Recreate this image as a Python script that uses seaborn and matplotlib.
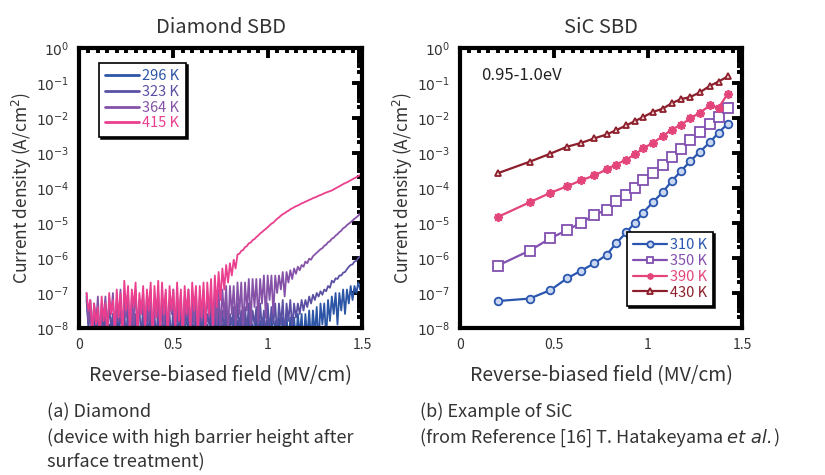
import numpy as np
import pandas as pd
import matplotlib
matplotlib.use("Agg")
import matplotlib.pyplot as plt
import seaborn as sns
from matplotlib.ticker import LogLocator, MultipleLocator, FuncFormatter, NullFormatter

# ---------------- data ----------------
# Diamond SBD: log10(J) sampled every 0.01 MV/cm starting at 0.04 MV/cm
diamond_x_start = 0.04
diamond_x_step = 0.01
diamond_temps = ["296 K", "323 K", "364 K", "415 K"]
diamond_296 = [
    -7.1, -7.9, -7.3, -8.4, -7.6, -8.2, -7.5, -8.5, -7.8, -8.3,
    -7.7, -8.4, -7.9, -8.2, -7.6, -8.5, -7.8, -8.1, -7.5, -8.4,
    -7.9, -8.3, -7.6, -8.5, -7.8, -8.2, -7.7, -8.4, -8.0, -8.3,
    -7.6, -8.4, -7.9, -8.2, -7.5, -8.5, -7.8, -8.3, -7.7, -8.4,
    -7.9, -8.2, -7.6, -8.5, -7.8, -8.3, -7.7, -8.4, -7.9, -8.2,
    -7.6, -8.5, -7.8, -8.3, -7.7, -8.4, -7.9, -8.2, -7.6, -8.5,
    -7.8, -8.3, -7.7, -8.4, -7.9, -8.2, -7.6, -8.5, -7.8, -8.3,
    -7.7, -8.4, -7.9, -8.2, -7.6, -8.5, -7.8, -8.3, -7.7, -8.4,
    -7.8, -8.2, -7.6, -8.5, -7.8, -8.3, -7.7, -8.4, -7.9, -8.2,
    -7.6, -8.5, -7.8, -8.3, -7.7, -8.4, -7.8, -8.2, -7.6, -8.5,
    -7.8, -8.3, -7.7, -8.4, -7.7, -8.2, -7.6, -8.5, -7.7, -8.3,
    -7.7, -8.4, -7.6, -8.2, -7.6, -8.5, -7.6, -8.3, -7.5, -8.4,
    -7.5, -8.2, -7.4, -8.5, -7.3, -7.9, -7.3, -8.3, -7.2, -7.8,
    -7.1, -7.6, -7.0, -7.9, -7.0, -7.5, -6.9, -7.6, -6.9, -7.3,
    -6.8, -7.2, -6.8, -7.0, -6.7, -6.9, -6.6,
]
diamond_323 = [
    -7.2, -8.0, -7.4, -8.3, -7.3, -7.9, -7.6, -8.4, -7.5, -8.1,
    -7.4, -8.3, -7.3, -8.0, -7.6, -8.4, -7.5, -7.9, -7.3, -8.2,
    -7.5, -8.4, -7.4, -8.1, -7.3, -8.3, -7.6, -7.9, -7.4, -8.4,
    -7.3, -8.0, -7.5, -8.3, -7.4, -8.1, -7.6, -8.4, -7.3, -7.9,
    -7.5, -8.3, -7.4, -8.0, -7.6, -8.4, -7.3, -8.1, -7.5, -8.2,
    -7.4, -8.4, -7.5, -7.9, -7.3, -8.3, -7.6, -8.0, -7.4, -8.4,
    -7.5, -8.1, -7.4, -8.3, -7.6, -7.9, -7.3, -8.4, -7.5, -8.0,
    -7.4, -8.3, -7.5, -8.1, -7.3, -8.4, -7.6, -7.9, -7.4, -8.3,
    -7.3, -8.0, -7.5, -8.4, -7.4, -8.1, -7.3, -8.3, -7.5, -7.9,
    -7.4, -8.4, -7.3, -8.0, -7.5, -8.3, -7.3, -8.1, -7.4, -7.9,
    -7.3, -8.2, -7.3, -7.9, -7.2, -8.3, -7.3, -7.8, -7.2, -8.0,
    -7.3, -7.7, -7.3, -7.6, -7.2, -7.5, -7.2, -7.4, -7.1, -7.3,
    -7.05, -7.2, -7.0, -7.1, -6.95, -7.05, -6.9, -6.95, -6.8, -6.85,
    -6.65, -6.7, -6.58, -6.6, -6.5, -6.5, -6.42, -6.4, -6.32, -6.25,
    -6.2, -6.18, -6.1, -6.08, -6.0, -5.96, -5.92,
]
diamond_364 = [
    -7.0, -7.8, -7.2, -8.2, -7.4, -7.9, -7.1, -8.3, -7.3, -7.7,
    -7.1, -8.0, -7.3, -7.6, -7.0, -8.4, -7.2, -7.8, -6.9, -8.1,
    -7.2, -7.7, -7.0, -8.3, -7.1, -7.9, -6.9, -8.0, -7.2, -7.6,
    -7.0, -8.2, -7.1, -7.8, -6.9, -8.4, -7.2, -7.7, -7.0, -8.1,
    -7.1, -7.9, -7.0, -8.3, -7.2, -7.6, -6.9, -8.2, -7.1, -7.8,
    -7.0, -8.4, -7.1, -7.7, -6.9, -8.1, -7.2, -7.9, -7.0, -8.3,
    -7.1, -7.8, -6.9, -8.2, -7.0, -7.7, -7.0, -8.4, -6.9, -7.9,
    -6.9, -8.1, -6.9, -7.7, -6.8, -8.2, -6.8, -7.6, -6.8, -8.0,
    -6.7, -7.6, -6.7, -8.1, -6.7, -7.5, -6.6, -7.9, -6.6, -7.4,
    -6.6, -7.8, -6.6, -7.3, -6.5, -7.7, -6.5, -7.2, -6.5, -7.6,
    -6.5, -7.0, -6.5, -6.9, -6.4, -7.1, -6.4, -6.7, -6.35, -6.6,
    -6.3, -6.45, -6.25, -6.35, -6.2, -6.25, -6.1, -6.15, -6.02, -6.05,
    -5.95, -5.9, -5.85, -5.8, -5.75, -5.72, -5.65, -5.62, -5.55, -5.52,
    -5.45, -5.42, -5.36, -5.32, -5.26, -5.22, -5.15, -5.12, -5.06, -5.02,
    -4.98, -4.93, -4.88, -4.84, -4.79, -4.74, -4.7,
]
diamond_415 = [
    -7.0, -7.5, -7.2, -8.2, -7.3, -7.9, -7.4, -8.4, -7.1, -7.8,
    -7.3, -8.3, -7.0, -7.6, -7.2, -8.1, -6.9, -7.7, -7.0, -8.4,
    -6.65, -7.5, -6.8, -8.2, -6.9, -7.4, -6.7, -8.3, -7.0, -7.6,
    -6.8, -8.1, -6.9, -7.5, -6.7, -8.4, -6.8, -7.7, -6.65, -8.2,
    -6.7, -7.6, -6.9, -8.3, -6.8, -7.5, -6.9, -8.1, -6.7, -7.8,
    -6.9, -8.4, -6.8, -7.6, -6.9, -8.2, -6.7, -7.5, -6.8, -8.3,
    -6.8, -7.7, -6.7, -8.1, -6.7, -7.6, -6.6, -8.0, -6.5, -7.4,
    -6.4, -7.2, -6.3, -6.9, -6.2, -6.7, -6.15, -6.5, -6.05, -6.3,
    -5.90, -5.88, -5.80, -5.77, -5.69, -5.66, -5.58, -5.56, -5.49, -5.46,
    -5.40, -5.36, -5.30, -5.26, -5.21, -5.17, -5.12, -5.07, -5.02, -4.99,
    -4.93, -4.88, -4.84, -4.79, -4.75, -4.72, -4.68, -4.65, -4.61, -4.58,
    -4.55, -4.52, -4.50, -4.47, -4.44, -4.42, -4.39, -4.37, -4.34, -4.32,
    -4.29, -4.27, -4.25, -4.22, -4.20, -4.18, -4.15, -4.13, -4.11, -4.09,
    -4.07, -4.04, -4.01, -3.98, -3.95, -3.92, -3.89, -3.86, -3.84, -3.81,
    -3.78, -3.75, -3.72, -3.69, -3.66, -3.63, -3.60,
]
diamond_colors = ["#2c55a6", "#5b51a4", "#8652a8", "#ea3f8e"]

# SiC SBD (Hatakeyama et al.)
sic_field = [0.20, 0.37, 0.48, 0.57, 0.645, 0.715, 0.78, 0.83, 0.885, 0.93,
             0.975, 1.025, 1.08, 1.125, 1.175, 1.225, 1.275, 1.33, 1.375, 1.425]
sic_temps = ["310 K", "350 K", "390 K", "430 K"]
sic_310 = [-7.23, -7.16, -6.92, -6.58, -6.36, -6.15, -5.91, -5.58, -5.27, -4.99,
           -4.70, -4.41, -4.11, -3.81, -3.52, -3.23, -2.97, -2.69, -2.42, -2.16]
sic_350 = [-6.22, -5.79, -5.44, -5.20, -4.99, -4.77, -4.62, -4.38, -4.19, -4.00,
           -3.78, -3.57, -3.33, -3.12, -2.88, -2.64, -2.40, -2.18, -1.97, -1.72]
sic_390 = [-4.83, -4.41, -4.14, -3.95, -3.78, -3.64, -3.47, -3.33, -3.19, -3.04,
           -2.87, -2.71, -2.52, -2.33, -2.20, -2.01, -1.85, -1.64, -1.71, -1.30]
sic_430 = [-3.58, -3.25, -3.02, -2.82, -2.71, -2.58, -2.47, -2.35, -2.21, -2.09,
           -1.97, -1.83, -1.73, -1.58, -1.46, -1.40, -1.27, -1.08, -0.96, -0.81]
sic_colors = ["#2a56b0", "#8150b0", "#e3457a", "#8c1f2b"]

# ---------------- style ----------------
sns.set_theme(style="white")
plt.rcParams['font.family'] = ['Noto Sans CJK JP', 'DejaVu Sans']
plt.rcParams['mathtext.fontset'] = 'dejavusans'
TXT = "#333333"

fig = plt.figure(figsize=(8.25, 4.75), dpi=100)
W, H = 825, 475


def frac_box(x0, y0, x1, y1):
    return [x0 / W, 1 - y1 / H, (x1 - x0) / W, (y1 - y0) / H]


axL = fig.add_axes(frac_box(79, 48, 362, 328))
axR = fig.add_axes(frac_box(460, 48, 742, 328))

# Diamond long table
rows = []
for temp, vals in zip(diamond_temps, [diamond_296, diamond_323, diamond_364, diamond_415]):
    for i, v in enumerate(vals):
        rows.append({"field": diamond_x_start + i * diamond_x_step,
                     "J": 10.0 ** v, "T": temp})
dfd = pd.DataFrame(rows)
sns.lineplot(data=dfd, x="field", y="J", hue="T", hue_order=diamond_temps,
             palette=diamond_colors, estimator=None, sort=False, lw=1.3,
             ax=axL, legend=True)

# SiC
sic_markers = ["o", "s", (8, 2, 0), "^"]
sic_msize = [5.5, 7, 6.5, 5]
sic_face = ["#c9d8f0", "white", "#f6c3d3", "#f0d0d0"]
for temp, vals, col, mk, ms, fc in zip(sic_temps, [sic_310, sic_350, sic_390, sic_430],
                                       sic_colors, sic_markers, sic_msize, sic_face):
    d = pd.DataFrame({"field": sic_field, "J": [10.0 ** v for v in vals]})
    sns.lineplot(data=d, x="field", y="J", ax=axR, color=col, lw=1.6, marker=mk,
                 markersize=ms, markerfacecolor=fc, markeredgecolor=col,
                 markeredgewidth=1.3, label=temp)


def fmt_pow(v, pos):
    e = int(round(np.log10(v)))
    return r"$10^{%d}$" % e


for ax in (axL, axR):
    ax.set_yscale("log")
    ax.set_xlim(0, 1.5)
    ax.set_ylim(1e-8, 1)
    ax.yaxis.set_major_locator(LogLocator(base=10, numticks=20))
    ax.yaxis.set_minor_locator(LogLocator(base=10, subs=np.arange(2, 10), numticks=20))
    ax.yaxis.set_major_formatter(FuncFormatter(fmt_pow))
    ax.yaxis.set_minor_formatter(NullFormatter())
    ax.xaxis.set_major_locator(MultipleLocator(0.5))
    ax.xaxis.set_minor_locator(MultipleLocator(0.05))
    ax.xaxis.set_major_formatter(FuncFormatter(lambda v, p: "%g" % v))
    for s in ax.spines.values():
        s.set_linewidth(3)
        s.set_color("black")
    ax.tick_params(which="both", direction="in", top=True, right=True,
                   color="black", labelcolor=TXT, labelsize=10)
    ax.tick_params(which="major", length=7, width=2.8, pad=7)
    ax.tick_params(which="minor", length=3.5, width=2.8)
    ax.set_xlabel("Reverse-biased field (MV/cm)", fontsize=14, color=TXT, labelpad=10)
    ax.set_ylabel("Current density (A/cm$^2$)", fontsize=12.5, color=TXT, labelpad=1)
    ax.grid(False)

axL.set_title("Diamond SBD", fontsize=14.5, color=TXT, pad=11)
axR.set_title("SiC SBD", fontsize=14.5, color=TXT, pad=11)

axR.text(0.075, 0.9, "0.95-1.0eV", transform=axR.transAxes, fontsize=12,
         color="#222222", va="center", ha="left")

leg_kw = dict(fontsize=10.5, frameon=True, fancybox=False, edgecolor="black",
              framealpha=1, handlelength=2.3, handletextpad=0.2, labelspacing=0.12,
              borderpad=0.45, borderaxespad=0,
              shadow={"color": "black", "alpha": 0.9, "ox": 1.5, "oy": -1.5})
legL = axL.legend(loc="upper left", bbox_to_anchor=(0.07, 0.948), **leg_kw)
legL.get_frame().set_linewidth(1.2)
for t, c in zip(legL.get_texts(), diamond_colors):
    t.set_color(c)
for l in legL.get_lines():
    l.set_linewidth(2)

legR = axR.legend(loc="lower right", bbox_to_anchor=(0.898, 0.078), **leg_kw)
legR.get_frame().set_linewidth(1.2)
for t, c in zip(legR.get_texts(), sic_colors):
    t.set_color(c)
for l in legR.get_lines():
    l.set_markersize(4.5)

# captions
cap_font = dict(fontsize=13, color=TXT, va="center", ha="left")
fig.text(47 / W, 1 - 412 / H, "(a) Diamond", **cap_font)
fig.text(47 / W, 1 - 438 / H, "(device with high barrier height after", **cap_font)
fig.text(47 / W, 1 - 462 / H, "surface treatment)", **cap_font)
fig.text(420 / W, 1 - 412 / H, "(b) Example of SiC", **cap_font)

t1 = fig.text(420 / W, 1 - 438 / H, "(from Reference [16] T. Hatakeyama ", **cap_font)
fig.canvas.draw()
r = fig.canvas.get_renderer()
bb = t1.get_window_extent(r)
t2 = fig.text(bb.x1 / W, 1 - 438 / H, "et al.", style="italic",
              fontfamily=["DejaVu Sans"], **cap_font)
bb2 = t2.get_window_extent(r)
fig.text(bb2.x1 / W, 1 - 438 / H, ")", **cap_font)

fig.savefig("out.png", dpi=100)
